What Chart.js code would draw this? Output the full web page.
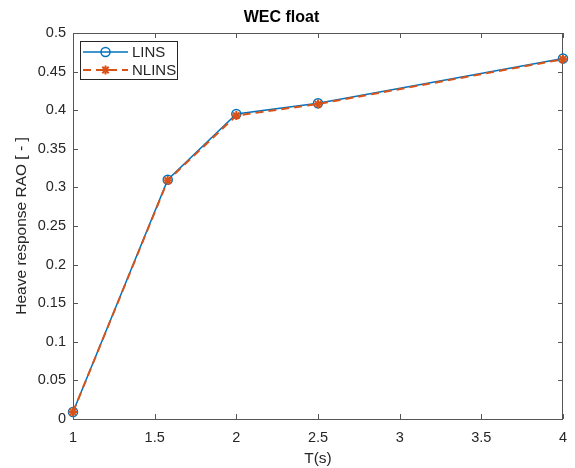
<!DOCTYPE html>
<html>
<head>
<meta charset="utf-8">
<script src="https://cdn.jsdelivr.net/npm/chart.js@4.4.1/dist/chart.umd.min.js"></script>
<style>
  html, body { margin: 0; padding: 0; background: #fff; }
  #wrap { width: 575px; height: 468px; position: relative; }
</style>
</head>
<body>
<div id="wrap"><canvas id="c" width="575" height="468"></canvas></div>
<script>
// Wave period (s) and heave RAO for the linear / nonlinear solvers
const periods = [1, 1.58, 2, 2.5, 4];
const linsRAO = [0.009, 0.310, 0.395, 0.409, 0.467];
const nlinsRAO = [0.009, 0.309, 0.393, 0.408, 0.466];
const xTicks = [1, 1.5, 2, 2.5, 3, 3.5, 4];
const yTicks = [0, 0.05, 0.1, 0.15, 0.2, 0.25, 0.3, 0.35, 0.4, 0.45, 0.5];

const AXIS = '#262626';
const BLUE = '#0072BD';
const ORANGE = '#D95319';
const FONT = "'Liberation Sans', Arial, sans-serif";

const toPoints = (ys) => periods.map((x, i) => ({ x, y: ys[i] }));

// Frame around the plot area with inward tick marks on all four sides
const framePlugin = {
  id: 'frame',
  beforeDatasetsDraw(chart) {
    const { ctx, chartArea: a, scales } = chart;
    ctx.save();
    ctx.strokeStyle = '#555';
    ctx.lineWidth = 1;
    ctx.strokeRect(a.left + 0.5, a.top + 0.5, a.right - a.left - 1, a.bottom - a.top);
    const len = 5;
    ctx.beginPath();
    xTicks.forEach(v => {
      const px = Math.round(scales.x.getPixelForValue(v)) + 0.5;
      ctx.moveTo(px, a.bottom); ctx.lineTo(px, a.bottom - len);
      ctx.moveTo(px, a.top); ctx.lineTo(px, a.top + len);
    });
    yTicks.forEach(v => {
      const py = Math.round(scales.y.getPixelForValue(v)) + 0.5;
      ctx.moveTo(a.left, py); ctx.lineTo(a.left + len, py);
      ctx.moveTo(a.right, py); ctx.lineTo(a.right - len, py);
    });
    ctx.stroke();
    ctx.restore();
  }
};

// Boxed legend in the upper-left corner of the plot area
const legendPlugin = {
  id: 'boxLegend',
  afterDatasetsDraw(chart) {
    const { ctx, chartArea: a } = chart;
    const x0 = a.left + 7, y0 = a.top + 8, w = 97, h = 38;
    ctx.save();
    ctx.fillStyle = '#fff';
    ctx.fillRect(x0, y0, w, h);
    ctx.strokeStyle = '#262626';
    ctx.lineWidth = 1;
    ctx.strokeRect(x0 + 0.5, y0 + 0.5, w, h);
    chart.data.datasets.forEach((ds, i) => {
      const cy = y0 + 11 + i * 18;
      ctx.save();
      ctx.strokeStyle = ds.borderColor;
      ctx.lineWidth = ds.borderWidth;
      ctx.setLineDash(ds.borderDash || []);
      ctx.beginPath();
      ctx.moveTo(x0 + 3, cy);
      ctx.lineTo(x0 + 48, cy);
      ctx.stroke();
      ctx.restore();
      ctx.save();
      ctx.strokeStyle = ds.pointBorderColor;
      ctx.fillStyle = 'rgba(0,0,0,0)';
      ctx.lineWidth = ds.pointBorderWidth;
      Chart.helpers.drawPoint(ctx, {
        pointStyle: ds.pointStyle, radius: ds.pointRadius, rotation: 0, borderWidth: ds.pointBorderWidth
      }, x0 + 25.5, cy);
      ctx.restore();
      ctx.fillStyle = AXIS;
      ctx.font = '15px ' + FONT;
      ctx.textBaseline = 'middle';
      ctx.textAlign = 'left';
      ctx.fillText(ds.label, x0 + 52, cy + 1);
    });
    ctx.restore();
  }
};

new Chart(document.getElementById('c'), {
  type: 'line',
  data: {
    datasets: [
      {
        label: 'LINS',
        data: toPoints(linsRAO),
        borderColor: BLUE,
        borderWidth: 1.5,
        pointStyle: 'circle',
        pointRadius: 4.5,
        pointBorderWidth: 1.5,
        pointBorderColor: BLUE,
        pointBackgroundColor: 'rgba(0,0,0,0)',
        tension: 0,
        clip: false,
        order: 1
      },
      {
        label: 'NLINS',
        data: toPoints(nlinsRAO),
        borderColor: ORANGE,
        borderWidth: 2,
        borderDash: [8, 5],
        pointStyle: 'star',
        pointRadius: 4.5,
        pointBorderWidth: 2,
        pointBorderColor: ORANGE,
        pointBackgroundColor: ORANGE,
        tension: 0,
        clip: false,
        order: 0
      }
    ]
  },
  options: {
    responsive: false,
    animation: false,
    devicePixelRatio: 1,
    layout: { autoPadding: false, padding: { left: 0, right: 12, top: 0, bottom: 0 } },
    plugins: {
      legend: { display: false },
      tooltip: { enabled: false },
      title: {
        display: true,
        text: 'WEC float',
        color: '#000',
        font: { family: FONT, size: 16, weight: 'bold' },
        padding: { top: 8, bottom: 5.8 }
      }
    },
    scales: {
      x: {
        type: 'linear',
        min: 1, max: 4,
        afterBuildTicks: (s) => { s.ticks = xTicks.map(v => ({ value: v })); },
        afterFit: (s) => { s.height = 49; s.paddingLeft = 0; s.paddingRight = 0; },
        grid: { display: false, drawTicks: false },
        border: { display: false },
        ticks: {
          color: AXIS,
          padding: 10,
          maxRotation: 0,
          font: { family: FONT, size: 14.5 },
          callback: (v) => String(v)
        },
        title: {
          display: true, text: 'T(s)', color: AXIS,
          font: { family: FONT, size: 15.5 },
          padding: { top: 0, bottom: 0 }
        }
      },
      y: {
        type: 'linear',
        min: 0, max: 0.5,
        afterBuildTicks: (s) => { s.ticks = yTicks.map(v => ({ value: v })); },
        afterFit: (s) => { s.width = 73; s.paddingTop = 0; s.paddingBottom = 0; },
        grid: { display: false, drawTicks: false },
        border: { display: false },
        ticks: {
          color: AXIS,
          padding: 7,
          font: { family: FONT, size: 14.5 },
          callback: (v) => String(Number(v.toFixed(2)))
        },
        title: {
          display: true, text: 'Heave response RAO [ - ]', color: AXIS,
          font: { family: FONT, size: 15.5 },
          padding: { top: 12, bottom: 0 }
        }
      }
    }
  },
  plugins: [framePlugin, legendPlugin]
});
</script>
</body>
</html>
